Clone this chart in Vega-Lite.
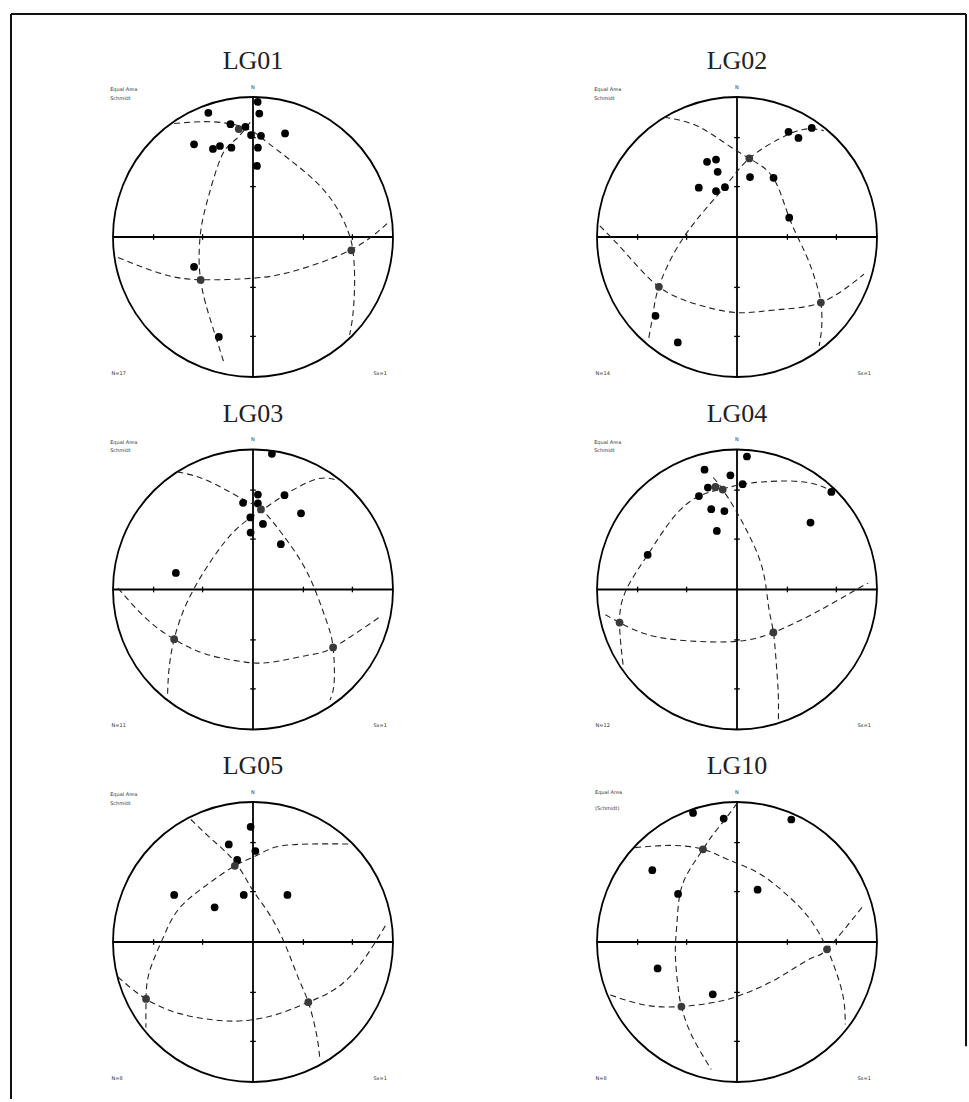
{
"$schema":"https://vega.github.io/schema/vega-lite/v6.json",
"background":"white",
"padding":{"left":9,"top":12,"right":2,"bottom":2},
"config":{"view":{"stroke":null},"axis":{"disable":true},"legend":{"disable":true}},
"datasets":{
"ctr":[{"x":0,"y":0}],
"axes":[{"x":-1,"y":0,"x2":1,"y2":0},{"x":0,"y":-1,"x2":0,"y2":1}],
"ticks":[
{"x":-0.71,"y":-0.02,"x2":-0.71,"y2":0.02},{"x":-0.36,"y":-0.02,"x2":-0.36,"y2":0.02},{"x":0.36,"y":-0.02,"x2":0.36,"y2":0.02},{"x":0.71,"y":-0.02,"x2":0.71,"y2":0.02},
{"x":-0.02,"y":-0.71,"x2":0.02,"y2":-0.71},{"x":-0.02,"y":-0.36,"x2":0.02,"y2":-0.36},{"x":-0.02,"y":0.36,"x2":0.02,"y2":0.36},{"x":-0.02,"y":0.71,"x2":0.02,"y2":0.71}],
"border":[{"x":-1.7286,"y":1.593,"x2":5.093,"y2":1.593},{"x":-1.7286,"y":1.593,"x2":-1.7286,"y2":-6.157},{"x":5.093,"y":1.593,"x2":5.093,"y2":-5.78}],
"titles":[{"p":"LG01","x":0,"y":1.197},{"p":"LG02","x":0,"y":1.197},{"p":"LG03","x":0,"y":1.197},{"p":"LG04","x":0,"y":1.197},{"p":"LG05","x":0,"y":1.197},{"p":"LG10","x":0,"y":1.197}],
"labels":[
{"p":"LG01","x":-1.02,"y":1.055,"txt":"Equal Area"},{"p":"LG01","x":-1.02,"y":0.995,"txt":"Schmidt"},{"p":"LG01","x":-1.01,"y":-0.97,"txt":"N=17"},{"p":"LG01","x":0.86,"y":-0.97,"txt":"Sx=1"},{"p":"LG01","x":-0.015,"y":1.075,"txt":"N"},
{"p":"LG02","x":-1.02,"y":1.055,"txt":"Equal Area"},{"p":"LG02","x":-1.02,"y":0.995,"txt":"Schmidt"},{"p":"LG02","x":-1.01,"y":-0.97,"txt":"N=14"},{"p":"LG02","x":0.86,"y":-0.97,"txt":"Sx=1"},{"p":"LG02","x":-0.015,"y":1.075,"txt":"N"},
{"p":"LG03","x":-1.02,"y":1.055,"txt":"Equal Area"},{"p":"LG03","x":-1.02,"y":0.995,"txt":"Schmidt"},{"p":"LG03","x":-1.01,"y":-0.97,"txt":"N=11"},{"p":"LG03","x":0.86,"y":-0.97,"txt":"Sx=1"},{"p":"LG03","x":-0.015,"y":1.075,"txt":"N"},
{"p":"LG04","x":-1.02,"y":1.055,"txt":"Equal Area"},{"p":"LG04","x":-1.02,"y":0.995,"txt":"Schmidt"},{"p":"LG04","x":-1.01,"y":-0.97,"txt":"N=12"},{"p":"LG04","x":0.86,"y":-0.97,"txt":"Sx=1"},{"p":"LG04","x":-0.015,"y":1.075,"txt":"N"},
{"p":"LG05","x":-1.02,"y":1.055,"txt":"Equal Area"},{"p":"LG05","x":-1.02,"y":0.995,"txt":"Schmidt"},{"p":"LG05","x":-1.01,"y":-0.97,"txt":"N=8"},{"p":"LG05","x":0.86,"y":-0.97,"txt":"Sx=1"},{"p":"LG05","x":-0.015,"y":1.075,"txt":"N"},
{"p":"LG10","x":-1.014,"y":1.071,"txt":"Equal Area"},{"p":"LG10","x":-1.014,"y":0.96,"txt":"(Schmidt)"},{"p":"LG10","x":-1.01,"y":-0.97,"txt":"N=8"},{"p":"LG10","x":0.86,"y":-0.97,"txt":"Sx=1"},{"p":"LG10","x":-0.015,"y":1.075,"txt":"N"}],
"dots":[
{"p":"LG01","x":0.033,"y":0.965,"t":"d"},{"p":"LG01","x":0.045,"y":0.882,"t":"d"},{"p":"LG01","x":-0.319,"y":0.887,"t":"d"},{"p":"LG01","x":-0.161,"y":0.806,"t":"d"},{"p":"LG01","x":-0.102,"y":0.771,"t":"x"},{"p":"LG01","x":-0.054,"y":0.787,"t":"d"},{"p":"LG01","x":-0.014,"y":0.728,"t":"d"},{"p":"LG01","x":0.057,"y":0.723,"t":"d"},{"p":"LG01","x":0.229,"y":0.74,"t":"d"},{"p":"LG01","x":-0.421,"y":0.662,"t":"d"},{"p":"LG01","x":-0.236,"y":0.65,"t":"d"},{"p":"LG01","x":-0.286,"y":0.629,"t":"d"},{"p":"LG01","x":-0.154,"y":0.638,"t":"d"},{"p":"LG01","x":0.035,"y":0.638,"t":"d"},{"p":"LG01","x":0.028,"y":0.508,"t":"d"},{"p":"LG01","x":-0.421,"y":-0.213,"t":"d"},{"p":"LG01","x":-0.244,"y":-0.714,"t":"d"},{"p":"LG01","x":-0.374,"y":-0.307,"t":"x"},{"p":"LG01","x":0.702,"y":-0.095,"t":"x"},
{"p":"LG02","x":0.534,"y":0.779,"t":"d"},{"p":"LG02","x":0.368,"y":0.751,"t":"d"},{"p":"LG02","x":0.439,"y":0.708,"t":"d"},{"p":"LG02","x":-0.214,"y":0.537,"t":"d"},{"p":"LG02","x":-0.15,"y":0.553,"t":"d"},{"p":"LG02","x":-0.138,"y":0.466,"t":"d"},{"p":"LG02","x":0.093,"y":0.428,"t":"d"},{"p":"LG02","x":0.261,"y":0.423,"t":"d"},{"p":"LG02","x":-0.273,"y":0.352,"t":"d"},{"p":"LG02","x":-0.15,"y":0.328,"t":"d"},{"p":"LG02","x":-0.086,"y":0.356,"t":"d"},{"p":"LG02","x":0.373,"y":0.138,"t":"d"},{"p":"LG02","x":-0.582,"y":-0.563,"t":"d"},{"p":"LG02","x":-0.423,"y":-0.753,"t":"d"},{"p":"LG02","x":0.088,"y":0.561,"t":"x"},{"p":"LG02","x":-0.558,"y":-0.356,"t":"x"},{"p":"LG02","x":0.599,"y":-0.468,"t":"x"},
{"p":"LG03","x":0.135,"y":0.969,"t":"d"},{"p":"LG03","x":0.035,"y":0.678,"t":"d"},{"p":"LG03","x":-0.071,"y":0.619,"t":"d"},{"p":"LG03","x":0.035,"y":0.615,"t":"d"},{"p":"LG03","x":0.225,"y":0.674,"t":"d"},{"p":"LG03","x":0.343,"y":0.544,"t":"d"},{"p":"LG03","x":-0.019,"y":0.515,"t":"d"},{"p":"LG03","x":0.071,"y":0.468,"t":"d"},{"p":"LG03","x":-0.017,"y":0.407,"t":"d"},{"p":"LG03","x":0.199,"y":0.324,"t":"d"},{"p":"LG03","x":-0.551,"y":0.118,"t":"d"},{"p":"LG03","x":0.057,"y":0.572,"t":"x"},{"p":"LG03","x":-0.563,"y":-0.355,"t":"x"},{"p":"LG03","x":0.572,"y":-0.414,"t":"x"},
{"p":"LG04","x":0.071,"y":0.95,"t":"d"},{"p":"LG04","x":-0.232,"y":0.856,"t":"d"},{"p":"LG04","x":-0.047,"y":0.816,"t":"d"},{"p":"LG04","x":0.04,"y":0.752,"t":"d"},{"p":"LG04","x":-0.208,"y":0.728,"t":"d"},{"p":"LG04","x":-0.272,"y":0.667,"t":"d"},{"p":"LG04","x":-0.184,"y":0.574,"t":"d"},{"p":"LG04","x":-0.09,"y":0.56,"t":"d"},{"p":"LG04","x":-0.144,"y":0.418,"t":"d"},{"p":"LG04","x":0.674,"y":0.697,"t":"d"},{"p":"LG04","x":0.525,"y":0.478,"t":"d"},{"p":"LG04","x":-0.638,"y":0.248,"t":"d"},{"p":"LG04","x":-0.154,"y":0.733,"t":"x"},{"p":"LG04","x":-0.102,"y":0.714,"t":"x"},{"p":"LG04","x":-0.839,"y":-0.236,"t":"x"},{"p":"LG04","x":0.26,"y":-0.307,"t":"x"},
{"p":"LG05","x":-0.017,"y":0.823,"t":"d"},{"p":"LG05","x":-0.173,"y":0.697,"t":"d"},{"p":"LG05","x":0.017,"y":0.65,"t":"d"},{"p":"LG05","x":-0.113,"y":0.586,"t":"d"},{"p":"LG05","x":-0.563,"y":0.336,"t":"d"},{"p":"LG05","x":-0.066,"y":0.336,"t":"d"},{"p":"LG05","x":0.246,"y":0.336,"t":"d"},{"p":"LG05","x":-0.274,"y":0.248,"t":"d"},{"p":"LG05","x":-0.13,"y":0.544,"t":"x"},{"p":"LG05","x":-0.764,"y":-0.407,"t":"x"},{"p":"LG05","x":0.395,"y":-0.43,"t":"x"},
{"p":"LG10","x":-0.314,"y":0.922,"t":"d"},{"p":"LG10","x":-0.095,"y":0.882,"t":"d"},{"p":"LG10","x":0.388,"y":0.875,"t":"d"},{"p":"LG10","x":-0.605,"y":0.513,"t":"d"},{"p":"LG10","x":-0.421,"y":0.343,"t":"d"},{"p":"LG10","x":0.147,"y":0.374,"t":"d"},{"p":"LG10","x":-0.567,"y":-0.189,"t":"d"},{"p":"LG10","x":-0.173,"y":-0.374,"t":"d"},{"p":"LG10","x":-0.243,"y":0.662,"t":"x"},{"p":"LG10","x":0.643,"y":-0.052,"t":"x"},{"p":"LG10","x":-0.397,"y":-0.461,"t":"x"}],
"arcs":[
{"p":"LG01","a":1,"o":1,"x":-0.563,"y":0.811},{"p":"LG01","a":1,"o":2,"x":-0.291,"y":0.823},{"p":"LG01","a":1,"o":3,"x":-0.054,"y":0.78},{"p":"LG01","a":1,"o":4,"x":0.111,"y":0.669},{"p":"LG01","a":1,"o":5,"x":0.395,"y":0.444},{"p":"LG01","a":1,"o":6,"x":0.584,"y":0.232},{"p":"LG01","a":1,"o":7,"x":0.678,"y":0.043},{"p":"LG01","a":1,"o":8,"x":0.714,"y":-0.099},{"p":"LG01","a":1,"o":9,"x":0.726,"y":-0.312},{"p":"LG01","a":1,"o":10,"x":0.714,"y":-0.55},{"p":"LG01","a":1,"o":11,"x":0.69,"y":-0.7},
{"p":"LG01","a":2,"o":1,"x":-0.02,"y":0.82},{"p":"LG01","a":2,"o":2,"x":-0.12,"y":0.7},{"p":"LG01","a":2,"o":3,"x":-0.22,"y":0.586},{"p":"LG01","a":2,"o":4,"x":-0.314,"y":0.303},{"p":"LG01","a":2,"o":5,"x":-0.37,"y":0.066},{"p":"LG01","a":2,"o":6,"x":-0.385,"y":-0.15},{"p":"LG01","a":2,"o":7,"x":-0.374,"y":-0.307},{"p":"LG01","a":2,"o":8,"x":-0.338,"y":-0.478},{"p":"LG01","a":2,"o":9,"x":-0.27,"y":-0.7},{"p":"LG01","a":2,"o":10,"x":-0.21,"y":-0.89},
{"p":"LG01","a":3,"o":1,"x":-0.965,"y":-0.147},{"p":"LG01","a":3,"o":2,"x":-0.645,"y":-0.265},{"p":"LG01","a":3,"o":3,"x":-0.374,"y":-0.305},{"p":"LG01","a":3,"o":4,"x":-0.007,"y":-0.295},{"p":"LG01","a":3,"o":5,"x":0.3,"y":-0.241},{"p":"LG01","a":3,"o":6,"x":0.702,"y":-0.09},{"p":"LG01","a":3,"o":7,"x":0.962,"y":0.1},
{"p":"LG02","a":1,"o":1,"x":-0.52,"y":0.855},{"p":"LG02","a":1,"o":2,"x":-0.3,"y":0.8},{"p":"LG02","a":1,"o":3,"x":-0.1,"y":0.68},{"p":"LG02","a":1,"o":4,"x":0.088,"y":0.561},{"p":"LG02","a":1,"o":5,"x":0.26,"y":0.42},{"p":"LG02","a":1,"o":6,"x":0.373,"y":0.138},{"p":"LG02","a":1,"o":7,"x":0.49,"y":-0.12},{"p":"LG02","a":1,"o":8,"x":0.56,"y":-0.31},{"p":"LG02","a":1,"o":9,"x":0.599,"y":-0.468},{"p":"LG02","a":1,"o":10,"x":0.605,"y":-0.64},{"p":"LG02","a":1,"o":11,"x":0.587,"y":-0.777},
{"p":"LG02","a":2,"o":1,"x":-0.98,"y":0.08},{"p":"LG02","a":2,"o":2,"x":-0.79,"y":-0.12},{"p":"LG02","a":2,"o":3,"x":-0.558,"y":-0.356},{"p":"LG02","a":2,"o":4,"x":-0.29,"y":-0.48},{"p":"LG02","a":2,"o":5,"x":0.0,"y":-0.54},{"p":"LG02","a":2,"o":6,"x":0.28,"y":-0.52},{"p":"LG02","a":2,"o":7,"x":0.599,"y":-0.468},{"p":"LG02","a":2,"o":8,"x":0.907,"y":-0.266},
{"p":"LG02","a":3,"o":1,"x":-0.63,"y":-0.72},{"p":"LG02","a":3,"o":2,"x":-0.6,"y":-0.55},{"p":"LG02","a":3,"o":3,"x":-0.558,"y":-0.356},{"p":"LG02","a":3,"o":4,"x":-0.43,"y":-0.08},{"p":"LG02","a":3,"o":5,"x":-0.25,"y":0.17},{"p":"LG02","a":3,"o":6,"x":-0.07,"y":0.38},{"p":"LG02","a":3,"o":7,"x":0.088,"y":0.561},{"p":"LG02","a":3,"o":8,"x":0.3,"y":0.7},{"p":"LG02","a":3,"o":9,"x":0.48,"y":0.77},{"p":"LG02","a":3,"o":10,"x":0.62,"y":0.76},
{"p":"LG03","a":1,"o":1,"x":-0.54,"y":0.84},{"p":"LG03","a":1,"o":2,"x":-0.33,"y":0.78},{"p":"LG03","a":1,"o":3,"x":-0.08,"y":0.65},{"p":"LG03","a":1,"o":4,"x":0.064,"y":0.567},{"p":"LG03","a":1,"o":5,"x":0.206,"y":0.4},{"p":"LG03","a":1,"o":6,"x":0.35,"y":0.19},{"p":"LG03","a":1,"o":7,"x":0.45,"y":-0.02},{"p":"LG03","a":1,"o":8,"x":0.53,"y":-0.24},{"p":"LG03","a":1,"o":9,"x":0.572,"y":-0.414},{"p":"LG03","a":1,"o":10,"x":0.58,"y":-0.66},{"p":"LG03","a":1,"o":11,"x":0.55,"y":-0.79},
{"p":"LG03","a":2,"o":1,"x":-0.965,"y":0.01},{"p":"LG03","a":2,"o":2,"x":-0.76,"y":-0.21},{"p":"LG03","a":2,"o":3,"x":-0.563,"y":-0.355},{"p":"LG03","a":2,"o":4,"x":-0.34,"y":-0.46},{"p":"LG03","a":2,"o":5,"x":-0.08,"y":-0.515},{"p":"LG03","a":2,"o":6,"x":0.13,"y":-0.52},{"p":"LG03","a":2,"o":7,"x":0.39,"y":-0.47},{"p":"LG03","a":2,"o":8,"x":0.572,"y":-0.414},{"p":"LG03","a":2,"o":9,"x":0.915,"y":-0.19},
{"p":"LG03","a":3,"o":1,"x":-0.61,"y":-0.745},{"p":"LG03","a":3,"o":2,"x":-0.6,"y":-0.57},{"p":"LG03","a":3,"o":3,"x":-0.563,"y":-0.355},{"p":"LG03","a":3,"o":4,"x":-0.47,"y":-0.09},{"p":"LG03","a":3,"o":5,"x":-0.31,"y":0.19},{"p":"LG03","a":3,"o":6,"x":-0.125,"y":0.425},{"p":"LG03","a":3,"o":7,"x":0.064,"y":0.567},{"p":"LG03","a":3,"o":8,"x":0.25,"y":0.69},{"p":"LG03","a":3,"o":9,"x":0.46,"y":0.79},{"p":"LG03","a":3,"o":10,"x":0.6,"y":0.78},
{"p":"LG04","a":1,"o":1,"x":0.7,"y":0.69},{"p":"LG04","a":1,"o":2,"x":0.56,"y":0.752},{"p":"LG04","a":1,"o":3,"x":0.371,"y":0.775},{"p":"LG04","a":1,"o":4,"x":0.18,"y":0.768},{"p":"LG04","a":1,"o":5,"x":0.04,"y":0.752},{"p":"LG04","a":1,"o":6,"x":-0.1,"y":0.72},{"p":"LG04","a":1,"o":7,"x":-0.27,"y":0.667},{"p":"LG04","a":1,"o":8,"x":-0.45,"y":0.52},{"p":"LG04","a":1,"o":9,"x":-0.638,"y":0.248},{"p":"LG04","a":1,"o":10,"x":-0.79,"y":0.0},{"p":"LG04","a":1,"o":11,"x":-0.839,"y":-0.236},{"p":"LG04","a":1,"o":12,"x":-0.81,"y":-0.567},
{"p":"LG04","a":2,"o":1,"x":-0.17,"y":0.8},{"p":"LG04","a":2,"o":2,"x":-0.102,"y":0.714},{"p":"LG04","a":2,"o":3,"x":0.0,"y":0.55},{"p":"LG04","a":2,"o":4,"x":0.09,"y":0.38},{"p":"LG04","a":2,"o":5,"x":0.17,"y":0.19},{"p":"LG04","a":2,"o":6,"x":0.21,"y":0.0},{"p":"LG04","a":2,"o":7,"x":0.23,"y":-0.15},{"p":"LG04","a":2,"o":8,"x":0.26,"y":-0.307},{"p":"LG04","a":2,"o":9,"x":0.28,"y":-0.52},{"p":"LG04","a":2,"o":10,"x":0.295,"y":-0.75},{"p":"LG04","a":2,"o":11,"x":0.295,"y":-0.96},
{"p":"LG04","a":3,"o":1,"x":-0.94,"y":-0.18},{"p":"LG04","a":3,"o":2,"x":-0.839,"y":-0.236},{"p":"LG04","a":3,"o":3,"x":-0.645,"y":-0.32},{"p":"LG04","a":3,"o":4,"x":-0.36,"y":-0.366},{"p":"LG04","a":3,"o":5,"x":0.0,"y":-0.37},{"p":"LG04","a":3,"o":6,"x":0.26,"y":-0.307},{"p":"LG04","a":3,"o":7,"x":0.56,"y":-0.165},{"p":"LG04","a":3,"o":8,"x":0.94,"y":0.05},
{"p":"LG05","a":1,"o":1,"x":-0.444,"y":0.875},{"p":"LG05","a":1,"o":2,"x":-0.29,"y":0.73},{"p":"LG05","a":1,"o":3,"x":-0.125,"y":0.567},{"p":"LG05","a":1,"o":4,"x":-0.007,"y":0.378},{"p":"LG05","a":1,"o":5,"x":0.11,"y":0.21},{"p":"LG05","a":1,"o":6,"x":0.23,"y":-0.02},{"p":"LG05","a":1,"o":7,"x":0.325,"y":-0.26},{"p":"LG05","a":1,"o":8,"x":0.395,"y":-0.43},{"p":"LG05","a":1,"o":9,"x":0.454,"y":-0.66},{"p":"LG05","a":1,"o":10,"x":0.478,"y":-0.84},
{"p":"LG05","a":2,"o":1,"x":0.68,"y":0.7},{"p":"LG05","a":2,"o":2,"x":0.4,"y":0.7},{"p":"LG05","a":2,"o":3,"x":0.17,"y":0.68},{"p":"LG05","a":2,"o":4,"x":0.03,"y":0.62},{"p":"LG05","a":2,"o":5,"x":-0.13,"y":0.544},{"p":"LG05","a":2,"o":6,"x":-0.338,"y":0.402},{"p":"LG05","a":2,"o":7,"x":-0.53,"y":0.236},{"p":"LG05","a":2,"o":8,"x":-0.645,"y":0.024},{"p":"LG05","a":2,"o":9,"x":-0.74,"y":-0.213},{"p":"LG05","a":2,"o":10,"x":-0.764,"y":-0.407},{"p":"LG05","a":2,"o":11,"x":-0.765,"y":-0.61},
{"p":"LG05","a":3,"o":1,"x":-0.965,"y":-0.25},{"p":"LG05","a":3,"o":2,"x":-0.764,"y":-0.407},{"p":"LG05","a":3,"o":3,"x":-0.53,"y":-0.51},{"p":"LG05","a":3,"o":4,"x":-0.29,"y":-0.555},{"p":"LG05","a":3,"o":5,"x":-0.08,"y":-0.563},{"p":"LG05","a":3,"o":6,"x":0.16,"y":-0.52},{"p":"LG05","a":3,"o":7,"x":0.395,"y":-0.43},{"p":"LG05","a":3,"o":8,"x":0.68,"y":-0.26},{"p":"LG05","a":3,"o":9,"x":0.96,"y":0.14},
{"p":"LG10","a":1,"o":1,"x":-0.728,"y":0.674},{"p":"LG10","a":1,"o":2,"x":-0.47,"y":0.69},{"p":"LG10","a":1,"o":3,"x":-0.243,"y":0.662},{"p":"LG10","a":1,"o":4,"x":-0.066,"y":0.59},{"p":"LG10","a":1,"o":5,"x":0.147,"y":0.496},{"p":"LG10","a":1,"o":6,"x":0.336,"y":0.355},{"p":"LG10","a":1,"o":7,"x":0.5,"y":0.19},{"p":"LG10","a":1,"o":8,"x":0.62,"y":0.0},{"p":"LG10","a":1,"o":9,"x":0.7,"y":-0.19},{"p":"LG10","a":1,"o":10,"x":0.76,"y":-0.4},{"p":"LG10","a":1,"o":11,"x":0.773,"y":-0.59},
{"p":"LG10","a":2,"o":1,"x":0.0,"y":0.99},{"p":"LG10","a":2,"o":2,"x":-0.09,"y":0.87},{"p":"LG10","a":2,"o":3,"x":-0.18,"y":0.756},{"p":"LG10","a":2,"o":4,"x":-0.243,"y":0.662},{"p":"LG10","a":2,"o":5,"x":-0.35,"y":0.496},{"p":"LG10","a":2,"o":6,"x":-0.41,"y":0.33},{"p":"LG10","a":2,"o":7,"x":-0.43,"y":0.12},{"p":"LG10","a":2,"o":8,"x":-0.44,"y":-0.095},{"p":"LG10","a":2,"o":9,"x":-0.42,"y":-0.33},{"p":"LG10","a":2,"o":10,"x":-0.397,"y":-0.461},{"p":"LG10","a":2,"o":11,"x":-0.326,"y":-0.662},{"p":"LG10","a":2,"o":12,"x":-0.184,"y":-0.91},
{"p":"LG10","a":3,"o":1,"x":-0.905,"y":-0.378},{"p":"LG10","a":3,"o":2,"x":-0.657,"y":-0.45},{"p":"LG10","a":3,"o":3,"x":-0.397,"y":-0.461},{"p":"LG10","a":3,"o":4,"x":-0.137,"y":-0.426},{"p":"LG10","a":3,"o":5,"x":0.05,"y":-0.37},{"p":"LG10","a":3,"o":6,"x":0.288,"y":-0.26},{"p":"LG10","a":3,"o":7,"x":0.525,"y":-0.118},{"p":"LG10","a":3,"o":8,"x":0.643,"y":-0.052},{"p":"LG10","a":3,"o":9,"x":0.903,"y":0.26}]
},
"columns":2,
"spacing":{"row":2.5,"column":8},
"bounds":"flush",
"concat":[
{"width":476,"height":350,"encoding":{"x":{"field":"x","type":"quantitative","scale":{"domain":[-1.7,1.7],"nice":false,"zero":false}},"y":{"field":"y","type":"quantitative","scale":{"domain":[-1.1,1.4],"nice":false,"zero":false}}},
"layer":[
{"data":{"name":"border"},"mark":{"type":"rule","color":"#111","strokeWidth":2},"encoding":{"x2":{"field":"x2"},"y2":{"field":"y2"}}},
{"data":{"name":"axes"},"mark":{"type":"rule","color":"black","strokeWidth":1.8},"encoding":{"x2":{"field":"x2"},"y2":{"field":"y2"}}},
{"data":{"name":"ticks"},"mark":{"type":"rule","color":"black","strokeWidth":1.3},"encoding":{"x2":{"field":"x2"},"y2":{"field":"y2"}}},
{"data":{"name":"ctr"},"mark":{"type":"point","shape":"circle","size":78400,"filled":false,"color":"black","strokeWidth":1.8,"opacity":1}},
{"data":{"name":"arcs"},"transform":[{"filter":"datum.p==='LG01'"}],"mark":{"type":"line","color":"#222","strokeWidth":1.1,"strokeDash":[6,4],"interpolate":"natural"},"encoding":{"detail":{"field":"a","type":"nominal"},"order":{"field":"o","type":"quantitative"}}},
{"data":{"name":"dots"},"transform":[{"filter":"datum.p==='LG01'"}],"mark":{"type":"point","shape":"circle","filled":true,"size":60,"opacity":1},"encoding":{"color":{"field":"t","type":"nominal","scale":{"domain":["d","x"],"range":["#000","#3a3a3a"]},"legend":null}}},
{"data":{"name":"titles"},"transform":[{"filter":"datum.p==='LG01'"}],"mark":{"type":"text","font":"Liberation Serif","fontSize":26,"baseline":"alphabetic","align":"center","color":"#222"},"encoding":{"text":{"field":"p"}}},
{"data":{"name":"labels"},"transform":[{"filter":"datum.p==='LG01'"}],"mark":{"type":"text","font":"DejaVu Sans","fontSize":5,"baseline":"middle","align":"left","color":"#333"},"encoding":{"text":{"field":"txt"}}}
]},
{"width":476,"height":350,"encoding":{"x":{"field":"x","type":"quantitative","scale":{"domain":[-1.7,1.7],"nice":false,"zero":false}},"y":{"field":"y","type":"quantitative","scale":{"domain":[-1.1,1.4],"nice":false,"zero":false}}},
"layer":[
{"data":{"name":"axes"},"mark":{"type":"rule","color":"black","strokeWidth":1.8},"encoding":{"x2":{"field":"x2"},"y2":{"field":"y2"}}},
{"data":{"name":"ticks"},"mark":{"type":"rule","color":"black","strokeWidth":1.3},"encoding":{"x2":{"field":"x2"},"y2":{"field":"y2"}}},
{"data":{"name":"ctr"},"mark":{"type":"point","shape":"circle","size":78400,"filled":false,"color":"black","strokeWidth":1.8,"opacity":1}},
{"data":{"name":"arcs"},"transform":[{"filter":"datum.p==='LG02'"}],"mark":{"type":"line","color":"#222","strokeWidth":1.1,"strokeDash":[6,4],"interpolate":"natural"},"encoding":{"detail":{"field":"a","type":"nominal"},"order":{"field":"o","type":"quantitative"}}},
{"data":{"name":"dots"},"transform":[{"filter":"datum.p==='LG02'"}],"mark":{"type":"point","shape":"circle","filled":true,"size":60,"opacity":1},"encoding":{"color":{"field":"t","type":"nominal","scale":{"domain":["d","x"],"range":["#000","#3a3a3a"]},"legend":null}}},
{"data":{"name":"titles"},"transform":[{"filter":"datum.p==='LG02'"}],"mark":{"type":"text","font":"Liberation Serif","fontSize":26,"baseline":"alphabetic","align":"center","color":"#222"},"encoding":{"text":{"field":"p"}}},
{"data":{"name":"labels"},"transform":[{"filter":"datum.p==='LG02'"}],"mark":{"type":"text","font":"DejaVu Sans","fontSize":5,"baseline":"middle","align":"left","color":"#333"},"encoding":{"text":{"field":"txt"}}}
]},
{"width":476,"height":350,"encoding":{"x":{"field":"x","type":"quantitative","scale":{"domain":[-1.7,1.7],"nice":false,"zero":false}},"y":{"field":"y","type":"quantitative","scale":{"domain":[-1.1,1.4],"nice":false,"zero":false}}},
"layer":[
{"data":{"name":"axes"},"mark":{"type":"rule","color":"black","strokeWidth":1.8},"encoding":{"x2":{"field":"x2"},"y2":{"field":"y2"}}},
{"data":{"name":"ticks"},"mark":{"type":"rule","color":"black","strokeWidth":1.3},"encoding":{"x2":{"field":"x2"},"y2":{"field":"y2"}}},
{"data":{"name":"ctr"},"mark":{"type":"point","shape":"circle","size":78400,"filled":false,"color":"black","strokeWidth":1.8,"opacity":1}},
{"data":{"name":"arcs"},"transform":[{"filter":"datum.p==='LG03'"}],"mark":{"type":"line","color":"#222","strokeWidth":1.1,"strokeDash":[6,4],"interpolate":"natural"},"encoding":{"detail":{"field":"a","type":"nominal"},"order":{"field":"o","type":"quantitative"}}},
{"data":{"name":"dots"},"transform":[{"filter":"datum.p==='LG03'"}],"mark":{"type":"point","shape":"circle","filled":true,"size":60,"opacity":1},"encoding":{"color":{"field":"t","type":"nominal","scale":{"domain":["d","x"],"range":["#000","#3a3a3a"]},"legend":null}}},
{"data":{"name":"titles"},"transform":[{"filter":"datum.p==='LG03'"}],"mark":{"type":"text","font":"Liberation Serif","fontSize":26,"baseline":"alphabetic","align":"center","color":"#222"},"encoding":{"text":{"field":"p"}}},
{"data":{"name":"labels"},"transform":[{"filter":"datum.p==='LG03'"}],"mark":{"type":"text","font":"DejaVu Sans","fontSize":5,"baseline":"middle","align":"left","color":"#333"},"encoding":{"text":{"field":"txt"}}}
]},
{"width":476,"height":350,"encoding":{"x":{"field":"x","type":"quantitative","scale":{"domain":[-1.7,1.7],"nice":false,"zero":false}},"y":{"field":"y","type":"quantitative","scale":{"domain":[-1.1,1.4],"nice":false,"zero":false}}},
"layer":[
{"data":{"name":"axes"},"mark":{"type":"rule","color":"black","strokeWidth":1.8},"encoding":{"x2":{"field":"x2"},"y2":{"field":"y2"}}},
{"data":{"name":"ticks"},"mark":{"type":"rule","color":"black","strokeWidth":1.3},"encoding":{"x2":{"field":"x2"},"y2":{"field":"y2"}}},
{"data":{"name":"ctr"},"mark":{"type":"point","shape":"circle","size":78400,"filled":false,"color":"black","strokeWidth":1.8,"opacity":1}},
{"data":{"name":"arcs"},"transform":[{"filter":"datum.p==='LG04'"}],"mark":{"type":"line","color":"#222","strokeWidth":1.1,"strokeDash":[6,4],"interpolate":"natural"},"encoding":{"detail":{"field":"a","type":"nominal"},"order":{"field":"o","type":"quantitative"}}},
{"data":{"name":"dots"},"transform":[{"filter":"datum.p==='LG04'"}],"mark":{"type":"point","shape":"circle","filled":true,"size":60,"opacity":1},"encoding":{"color":{"field":"t","type":"nominal","scale":{"domain":["d","x"],"range":["#000","#3a3a3a"]},"legend":null}}},
{"data":{"name":"titles"},"transform":[{"filter":"datum.p==='LG04'"}],"mark":{"type":"text","font":"Liberation Serif","fontSize":26,"baseline":"alphabetic","align":"center","color":"#222"},"encoding":{"text":{"field":"p"}}},
{"data":{"name":"labels"},"transform":[{"filter":"datum.p==='LG04'"}],"mark":{"type":"text","font":"DejaVu Sans","fontSize":5,"baseline":"middle","align":"left","color":"#333"},"encoding":{"text":{"field":"txt"}}}
]},
{"width":476,"height":350,"encoding":{"x":{"field":"x","type":"quantitative","scale":{"domain":[-1.7,1.7],"nice":false,"zero":false}},"y":{"field":"y","type":"quantitative","scale":{"domain":[-1.1,1.4],"nice":false,"zero":false}}},
"layer":[
{"data":{"name":"axes"},"mark":{"type":"rule","color":"black","strokeWidth":1.8},"encoding":{"x2":{"field":"x2"},"y2":{"field":"y2"}}},
{"data":{"name":"ticks"},"mark":{"type":"rule","color":"black","strokeWidth":1.3},"encoding":{"x2":{"field":"x2"},"y2":{"field":"y2"}}},
{"data":{"name":"ctr"},"mark":{"type":"point","shape":"circle","size":78400,"filled":false,"color":"black","strokeWidth":1.8,"opacity":1}},
{"data":{"name":"arcs"},"transform":[{"filter":"datum.p==='LG05'"}],"mark":{"type":"line","color":"#222","strokeWidth":1.1,"strokeDash":[6,4],"interpolate":"natural"},"encoding":{"detail":{"field":"a","type":"nominal"},"order":{"field":"o","type":"quantitative"}}},
{"data":{"name":"dots"},"transform":[{"filter":"datum.p==='LG05'"}],"mark":{"type":"point","shape":"circle","filled":true,"size":60,"opacity":1},"encoding":{"color":{"field":"t","type":"nominal","scale":{"domain":["d","x"],"range":["#000","#3a3a3a"]},"legend":null}}},
{"data":{"name":"titles"},"transform":[{"filter":"datum.p==='LG05'"}],"mark":{"type":"text","font":"Liberation Serif","fontSize":26,"baseline":"alphabetic","align":"center","color":"#222"},"encoding":{"text":{"field":"p"}}},
{"data":{"name":"labels"},"transform":[{"filter":"datum.p==='LG05'"}],"mark":{"type":"text","font":"DejaVu Sans","fontSize":5,"baseline":"middle","align":"left","color":"#333"},"encoding":{"text":{"field":"txt"}}}
]},
{"width":476,"height":350,"encoding":{"x":{"field":"x","type":"quantitative","scale":{"domain":[-1.7,1.7],"nice":false,"zero":false}},"y":{"field":"y","type":"quantitative","scale":{"domain":[-1.1,1.4],"nice":false,"zero":false}}},
"layer":[
{"data":{"name":"axes"},"mark":{"type":"rule","color":"black","strokeWidth":1.8},"encoding":{"x2":{"field":"x2"},"y2":{"field":"y2"}}},
{"data":{"name":"ticks"},"mark":{"type":"rule","color":"black","strokeWidth":1.3},"encoding":{"x2":{"field":"x2"},"y2":{"field":"y2"}}},
{"data":{"name":"ctr"},"mark":{"type":"point","shape":"circle","size":78400,"filled":false,"color":"black","strokeWidth":1.8,"opacity":1}},
{"data":{"name":"arcs"},"transform":[{"filter":"datum.p==='LG10'"}],"mark":{"type":"line","color":"#222","strokeWidth":1.1,"strokeDash":[6,4],"interpolate":"natural"},"encoding":{"detail":{"field":"a","type":"nominal"},"order":{"field":"o","type":"quantitative"}}},
{"data":{"name":"dots"},"transform":[{"filter":"datum.p==='LG10'"}],"mark":{"type":"point","shape":"circle","filled":true,"size":60,"opacity":1},"encoding":{"color":{"field":"t","type":"nominal","scale":{"domain":["d","x"],"range":["#000","#3a3a3a"]},"legend":null}}},
{"data":{"name":"titles"},"transform":[{"filter":"datum.p==='LG10'"}],"mark":{"type":"text","font":"Liberation Serif","fontSize":26,"baseline":"alphabetic","align":"center","color":"#222"},"encoding":{"text":{"field":"p"}}},
{"data":{"name":"labels"},"transform":[{"filter":"datum.p==='LG10'"}],"mark":{"type":"text","font":"DejaVu Sans","fontSize":5,"baseline":"middle","align":"left","color":"#333"},"encoding":{"text":{"field":"txt"}}}
]}
]
}
